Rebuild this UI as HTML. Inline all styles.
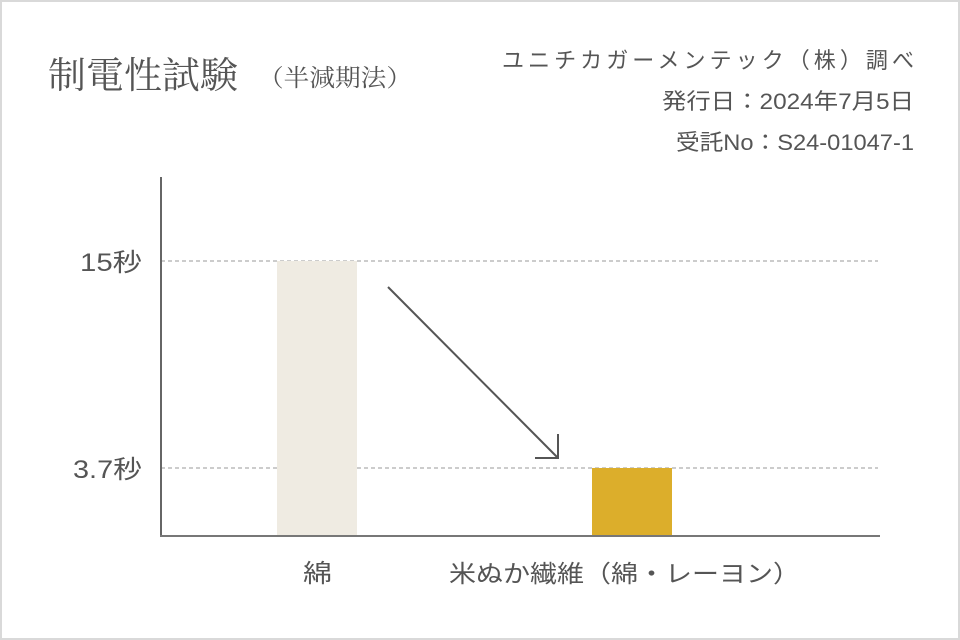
<!DOCTYPE html>
<html><head><meta charset="utf-8"><style>
html,body{margin:0;padding:0;}
body{width:960px;height:640px;background:#fff;position:relative;overflow:hidden;}
.frame{position:absolute;left:0;top:0;width:956px;height:636px;border:2px solid #d9d9d9;}
svg{position:absolute;left:0;top:0;}
.s{font-family:"Liberation Sans","Noto Sans CJK JP",sans-serif;fill:#555;}
.t{font-family:"Liberation Serif","Noto Serif CJK SC",serif;fill:#555;}
</style></head><body>
<div class="frame"></div>
<svg width="960" height="640" viewBox="0 0 960 640">
<text class="t" x="48" y="88" font-size="37" textLength="190" lengthAdjust="spacingAndGlyphs">制電性試験</text>
<text class="t" x="258" y="86" font-size="24" textLength="154" lengthAdjust="spacingAndGlyphs">（半減期法）</text>
<text class="s" x="502" y="68" font-size="22" textLength="412" lengthAdjust="spacing">ユニチカガーメンテック（株）調べ</text>
<text class="s" x="662" y="109" font-size="22" textLength="252" lengthAdjust="spacingAndGlyphs">発行日：2024年7月5日</text>
<text class="s" x="676" y="150" font-size="22" textLength="238" lengthAdjust="spacingAndGlyphs">受託No：S24-01047-1</text>
<line x1="161" y1="261" x2="878" y2="261" stroke="#999" stroke-dasharray="4,3"/>
<line x1="161" y1="468" x2="878" y2="468" stroke="#999" stroke-dasharray="4,3"/>
<rect x="277" y="261" width="80" height="275" fill="#efebe2"/>
<rect x="592" y="468" width="80" height="68" fill="#dcae2b"/>
<line x1="161" y1="177" x2="161" y2="537" stroke="#666" stroke-width="2"/>
<line x1="160" y1="536" x2="880" y2="536" stroke="#777" stroke-width="2"/>
<text class="s" x="80" y="271" font-size="25" textLength="62" lengthAdjust="spacingAndGlyphs">15秒</text>
<text class="s" x="73" y="478" font-size="25" textLength="69" lengthAdjust="spacingAndGlyphs">3.7秒</text>
<text class="s" x="303" y="582" font-size="25" textLength="29" lengthAdjust="spacingAndGlyphs">綿</text>
<text class="s" x="449" y="582" font-size="24" textLength="351" lengthAdjust="spacingAndGlyphs">米ぬか繊維（綿・レーヨン）</text>
<line x1="388" y1="287" x2="558" y2="458" stroke="#555" stroke-width="2"/>
<polyline points="558,434 558,458 535,458" fill="none" stroke="#555" stroke-width="2"/>
</svg>
</body></html>
